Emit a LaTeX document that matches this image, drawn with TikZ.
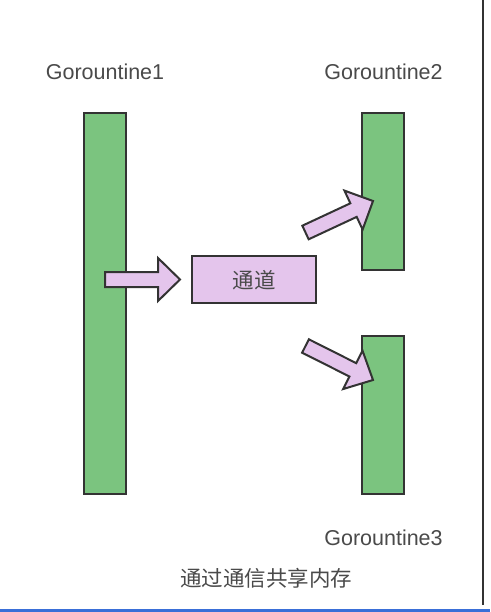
\documentclass[tikz,border=0pt]{standalone}
\usepackage{fontspec}
\setmainfont{Liberation Sans}
\newfontfamily\cjk{Noto Sans CJK SC}
\usetikzlibrary{calc}
\definecolor{gofill}{HTML}{7BC47F}
\definecolor{chfill}{HTML}{E4C5EC}
\definecolor{edge}{HTML}{333333}
\definecolor{txt}{HTML}{4A4A4A}
\definecolor{frameblue}{HTML}{3A6FD8}
\tikzset{
  gobar/.style={draw=edge, line width=2pt, fill=gofill},
  chanbox/.style={draw=edge, line width=1.8pt, fill=chfill},
  arrowshape/.style={draw=edge, line width=2pt, fill=chfill, line join=miter},
  golabel/.style={text=txt, font=\fontsize{21.5}{24}\selectfont, anchor=base, inner sep=0pt},
  cjklabel/.style={text=txt, font=\cjk\fontsize{21.5}{24}\selectfont, inner sep=0pt},
}
\newcommand{\blockarrow}[2]{%
  \coordinate (bah) at ($(#1)!53pt!(#2)$);
  \draw[arrowshape] ($(#1)!7.5pt!90:(#2)$) -- ($(bah)!7.5pt!90:(#2)$) -- ($(bah)!21.5pt!90:(#2)$) -- (#2) -- ($(bah)!21.5pt!-90:(#2)$) -- ($(bah)!7.5pt!-90:(#2)$) -- ($(#1)!7.5pt!-90:(#2)$) -- cycle;}
\begin{document}
\begin{tikzpicture}[x=1pt,y=-1pt]
\useasboundingbox[fill=white] (0,0) rectangle (490,612);
% frame artefacts
\draw[edge, line width=2pt] (483,0) -- (483,605);
\fill[frameblue] (0,609) rectangle (490,612);
% bars
\draw[gobar] (84,113) rectangle (126,494);
\draw[gobar] (362,113) rectangle (404,270);
\draw[gobar] (362,336) rectangle (404,494);
\coordinate (g1) at (105,300);
% labels
\node[golabel] (l1) at (105,80) {Gorountine1};
\node[golabel] (l2) at (383.5,80) {Gorountine2};
\node[golabel] (l3) at (383.5,545) {Gorountine3};
% channel
\draw[chanbox] (192,256) rectangle (316,303);
\node[cjklabel] (ch) at (254,280) {通道};
% arrows
\coordinate (a1t) at (105,279.5);
\coordinate (a1p) at (180,279.5);
\coordinate (a2t) at (305.5,232.5);
\coordinate (a2p) at (373,201);
\coordinate (a3t) at (305.5,346);
\coordinate (a3p) at (373,380);
\blockarrow{a1t}{a1p}
\blockarrow{a2t}{a2p}
\blockarrow{a3t}{a3p}
% caption
\node[cjklabel] (cap) at (266,578) {通过通信共享内存};
\end{tikzpicture}
\end{document}
